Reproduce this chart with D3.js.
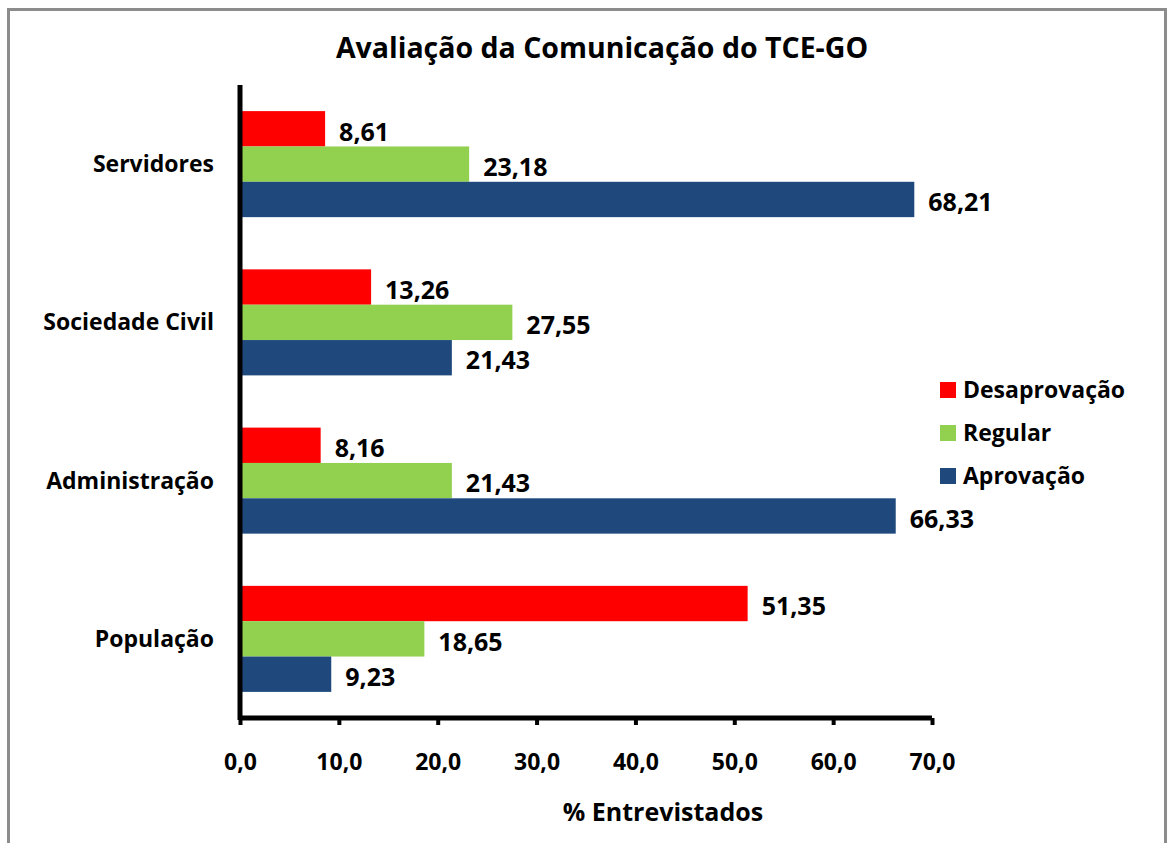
<!DOCTYPE html>
<html>
<head>
<meta charset="utf-8">
<script src="https://cdn.jsdelivr.net/npm/d3@7"></script>
<style>
  body { margin: 0; background: #fff; }
  text { font-family: "Open Sans", sans-serif; font-weight: bold; fill: #000; }
</style>
</head>
<body>
<div id="container"></div>
<script>
// categories (top to bottom) and series
var categories = ["Servidores", "Sociedade Civil", "Administração", "População"];
var seriesNames = ["Desaprovação", "Regular", "Aprovação"];
var desaprovacao = [8.61, 13.26, 8.16, 51.35];
var regular = [23.18, 27.55, 21.43, 18.65];
var aprovacao = [68.21, 21.43, 66.33, 9.23];
var xTicks = [0, 10, 20, 30, 40, 50, 60, 70];

var colors = ["#FF0000", "#92D050", "#1F497D"];
var values = [desaprovacao, regular, aprovacao];

var width = 1170, height = 843;
var plot = { left: 240, right: 932, top: 85, bottom: 718 };

var locale = d3.formatLocale({ decimal: ",", thousands: ".", grouping: [3], currency: ["R$", ""] });
var fmt1 = locale.format(".1f"), fmt2 = locale.format(".2f");

var svg = d3.select("#container").append("svg")
    .attr("width", width)
    .attr("height", height);

//outer frame
svg.append("rect")
    .attr("x", 8.5).attr("y", 9.5)
    .attr("width", 1157).attr("height", 850)
    .attr("fill", "none")
    .attr("stroke", "#8c8c8c")
    .attr("stroke-width", 3);

var x = d3.scaleLinear().domain([0, 70]).range([plot.left, plot.right]);
var y = d3.scaleBand().domain(categories).range([plot.top, plot.bottom])
    .paddingInner(0.33).paddingOuter(0.165);
var ySub = d3.scaleBand().domain(seriesNames).range([0, y.bandwidth()]);

//title
svg.append("text")
    .attr("x", 602).attr("y", 48)
    .attr("dy", "0.35em")
    .attr("text-anchor", "middle")
    .style("font-size", "28.5px")
    .text("Avaliação da Comunicação do TCE-GO");

//bars
var rows = [];
categories.forEach(function (c, i) {
    seriesNames.forEach(function (s, j) {
        rows.push({ cat: c, series: s, value: values[j][i], color: colors[j] });
    });
});

var g = svg.append("g");
g.selectAll(".bar")
    .data(rows)
    .enter().append("rect")
    .attr("class", "bar")
    .attr("x", x(0))
    .attr("y", function (d) { return y(d.cat) + ySub(d.series); })
    .attr("width", function (d) { return x(d.value) - x(0); })
    .attr("height", ySub.bandwidth())
    .attr("fill", function (d) { return d.color; });

g.selectAll(".lbl")
    .data(rows)
    .enter().append("text")
    .attr("class", "lbl")
    .attr("x", function (d) { return x(d.value) + 14; })
    .attr("y", function (d) { return y(d.cat) + ySub(d.series) + ySub.bandwidth() / 2 + 3; })
    .attr("dy", "0.35em")
    .style("font-size", "25px")
    .text(function (d) { return fmt2(d.value); });

//category labels
svg.selectAll(".cat")
    .data(categories)
    .enter().append("text")
    .attr("class", "cat")
    .attr("x", 214)
    .attr("y", function (d) { return y(d) + y.bandwidth() / 2; })
    .attr("dy", "0.35em")
    .attr("text-anchor", "end")
    .style("font-size", "23px")
    .text(function (d) { return d; });

//axes
var xAxis = svg.append("g")
    .attr("transform", "translate(0," + plot.bottom + ")")
    .call(d3.axisBottom(x).tickValues(xTicks).tickFormat(fmt1).tickSize(7).tickPadding(29));
xAxis.select(".domain").remove();
xAxis.selectAll(".tick line").attr("stroke", "#000").attr("stroke-width", 4);
xAxis.selectAll(".tick text")
    .style("font-size", "23px")
    .style("font-family", "'Open Sans', sans-serif");

svg.append("line")
    .attr("x1", plot.left).attr("x2", plot.right)
    .attr("y1", plot.bottom).attr("y2", plot.bottom)
    .attr("stroke", "#000").attr("stroke-width", 5);
svg.append("line")
    .attr("x1", plot.left).attr("x2", plot.left)
    .attr("y1", plot.top).attr("y2", plot.bottom + 2)
    .attr("stroke", "#000").attr("stroke-width", 5);

svg.append("text")
    .attr("x", 663).attr("y", 812)
    .attr("dy", "0.35em")
    .attr("text-anchor", "middle")
    .style("font-size", "25px")
    .text("% Entrevistados");

//legend
var legend = svg.selectAll(".legend")
    .data(seriesNames)
    .enter().append("g")
    .attr("class", "legend")
    .attr("transform", function (d, i) { return "translate(940," + (382 + i * 43) + ")"; });
legend.append("rect")
    .attr("width", 16).attr("height", 16)
    .attr("fill", function (d, i) { return colors[i]; });
legend.append("text")
    .attr("x", 23).attr("y", 8)
    .attr("dy", "0.35em")
    .style("font-size", "23px")
    .text(function (d) { return d; });
</script>
</body>
</html>
